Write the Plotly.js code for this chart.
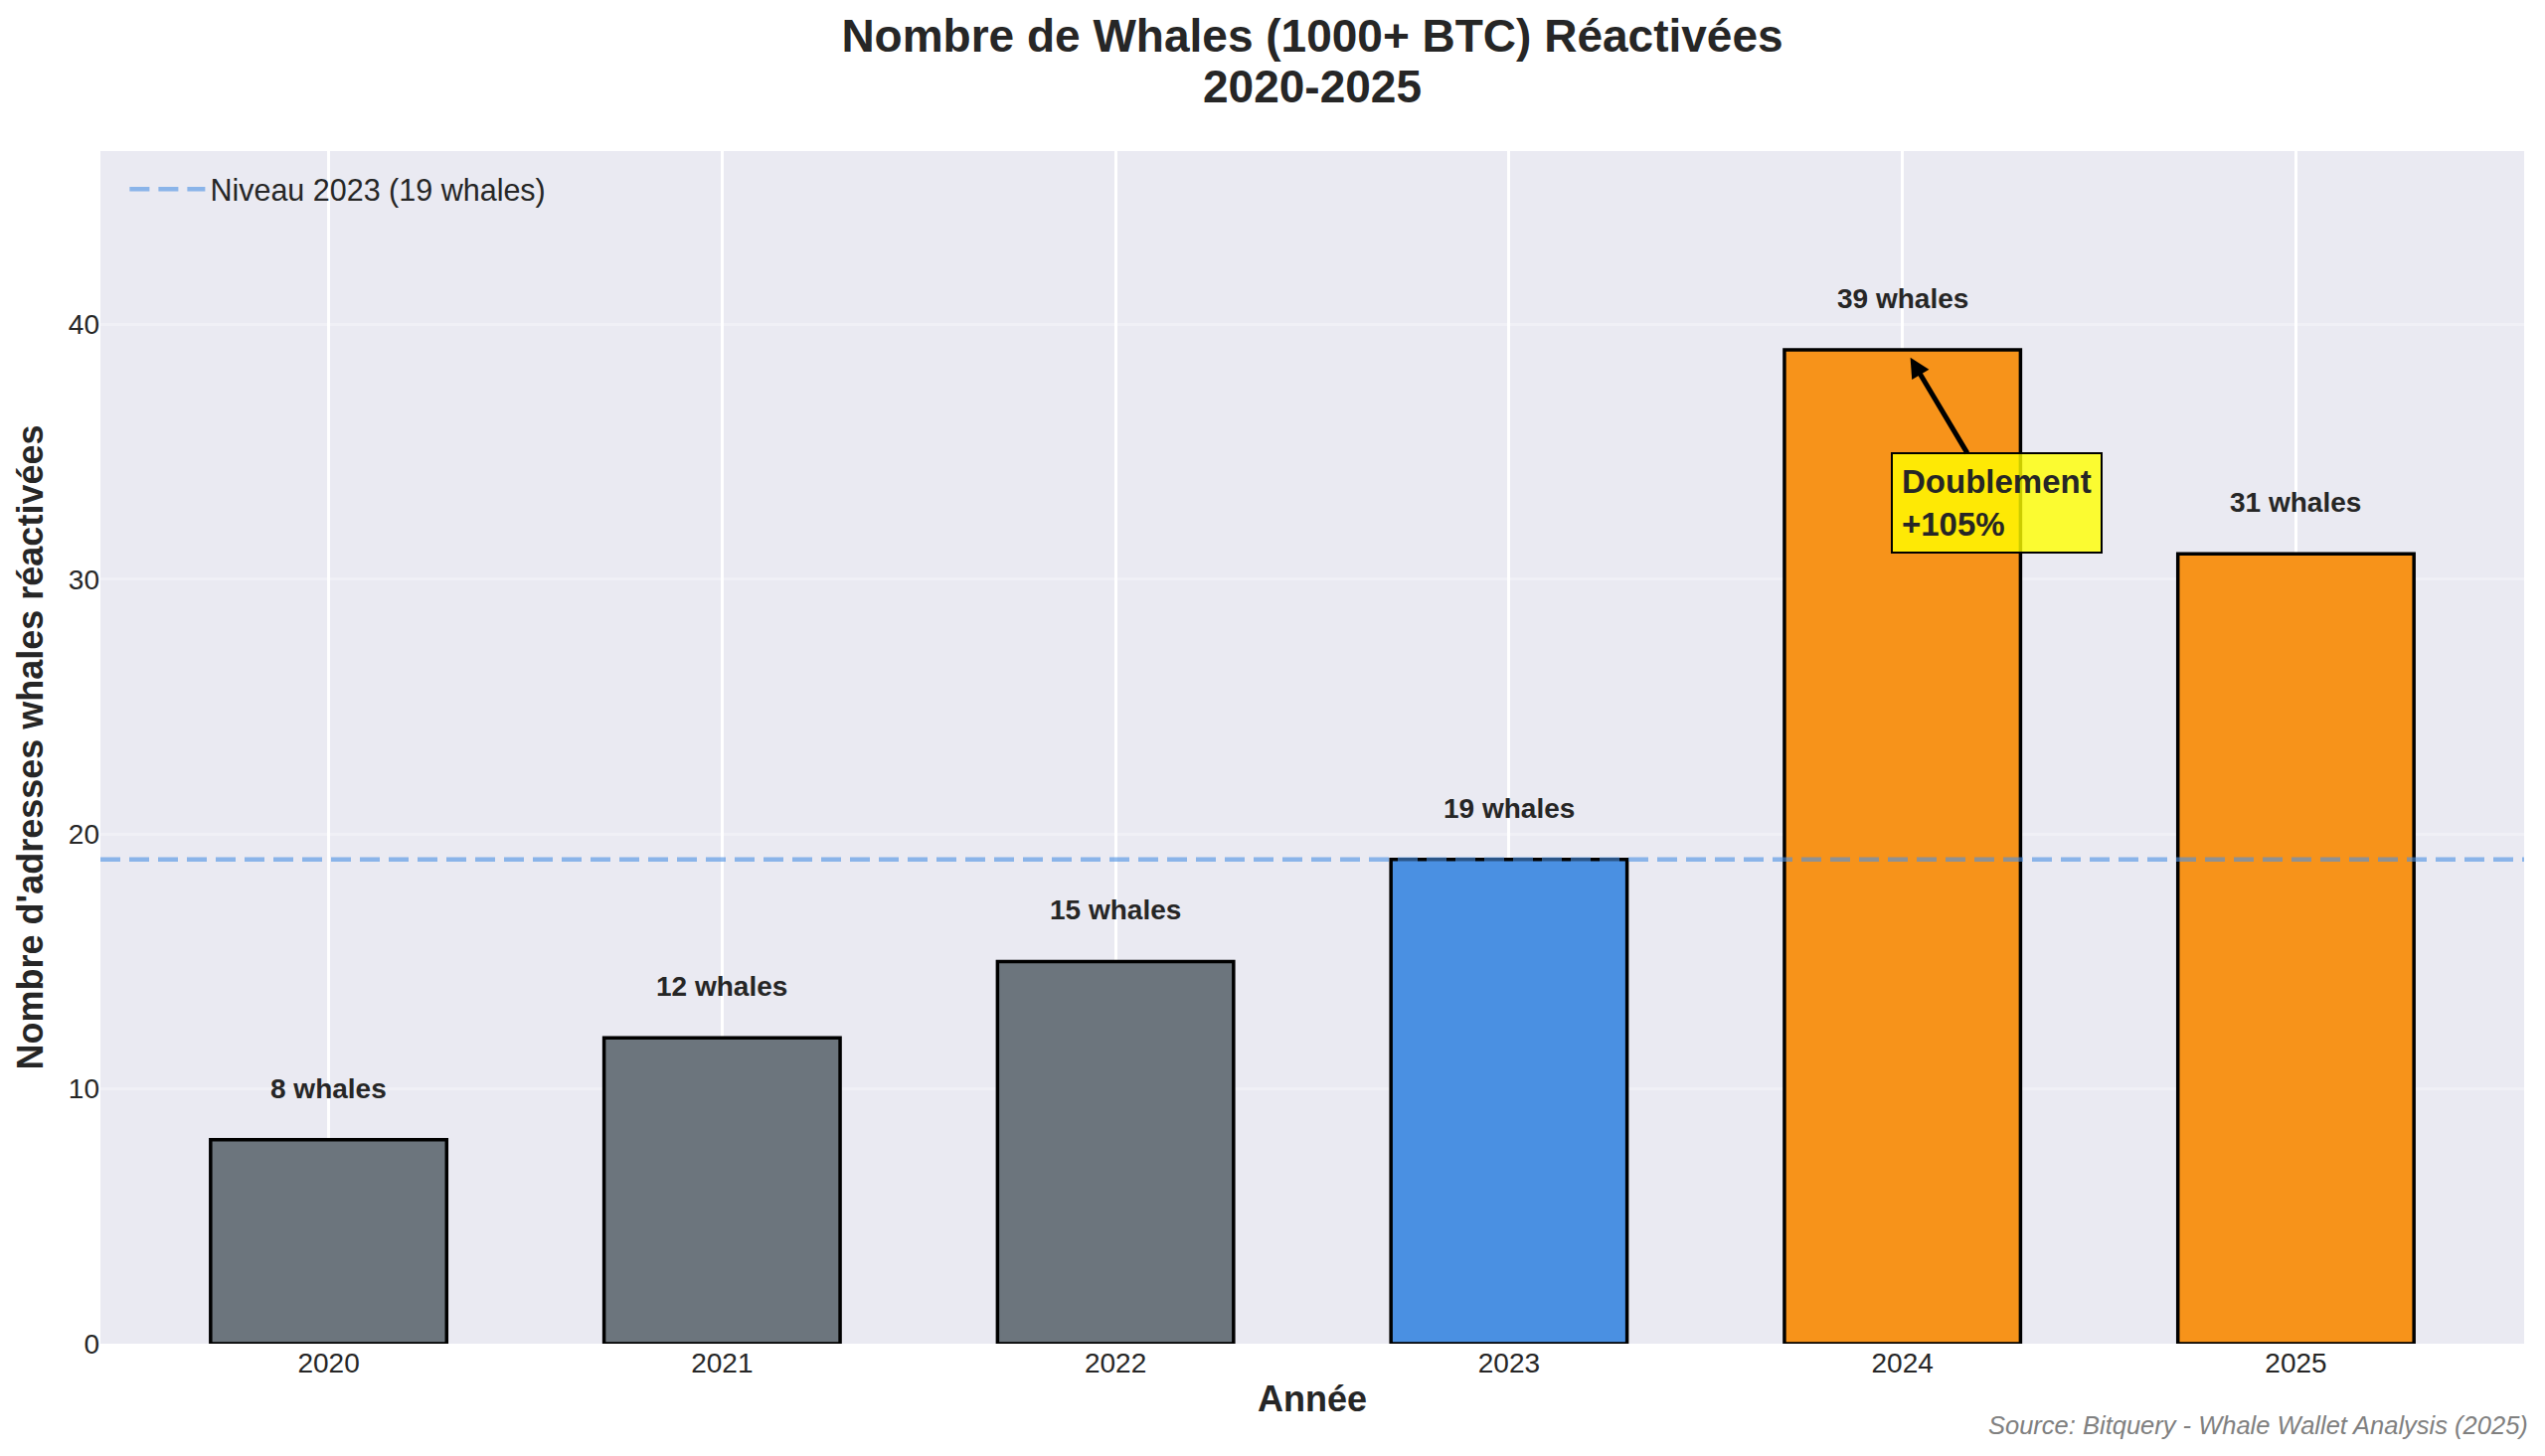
<!DOCTYPE html>
<html>
<head>
<meta charset="utf-8">
<script src="https://cdn.plot.ly/plotly-3.0.1.min.js"></script>
<style>
  html, body { margin: 0; padding: 0; background: #fff; }
  #chart { width: 2560px; height: 1465px; }
</style>
</head>
<body>
<div id="chart"></div>
<script>
var years = ["2020", "2021", "2022", "2023", "2024", "2025"]
var whales = [8, 12, 15, 19, 39, 31]
var yTicks = [0, 10, 20, 30, 40]

var barColors = ["#6c757d", "#6c757d", "#6c757d", "#4a90e2", "#f7931a", "#f7931a"]
var level = whales[years.indexOf("2023")] // reference line

var FONT = "Liberation Sans, Arial, Helvetica, sans-serif"
var INK = "#262626"

var data = [
  {
    type: "bar",
    x: years,
    y: whales,
    width: 0.6,
    marker: { color: barColors, line: { color: "#000", width: 3.5 } },
    showlegend: false,
    hoverinfo: "x+y",
  },
]

// value labels above each bar (category index as x)
var annotations = years.map(function (yr, i) {
  return {
    x: i,
    y: whales[i],
    xref: "x",
    yref: "y",
    text: "<b>" + whales[i] + " whales</b>",
    showarrow: false,
    yanchor: "bottom",
    yshift: 34,
    font: { family: FONT, size: 28, color: INK },
  }
})

// arrow + yellow box on 2024
annotations.push({
  x: 4.02,
  y: whales[4] - 0.3,
  xref: "x",
  yref: "y",
  ax: 4.24,
  ay: 33.0,
  axref: "x",
  ayref: "y",
  text: "<b>Doublement<br>+105%</b>",
  align: "left",
  showarrow: true,
  arrowhead: 2,
  arrowsize: 0.8,
  arrowwidth: 5,
  arrowcolor: "#000",
  bgcolor: "rgba(255,255,0,0.8)",
  bordercolor: "#000",
  borderwidth: 2,
  borderpad: 9,
  font: { family: FONT, size: 33, color: INK },
})

// second title line (plot area: top 152px, height 1200px)
annotations.push({
  x: 0.5,
  y: 1 + (152 - 87) / 1200,
  xref: "paper",
  yref: "paper",
  xanchor: "center",
  yanchor: "middle",
  text: "<b>2020-2025</b>",
  showarrow: false,
  font: { family: FONT, size: 46, color: INK },
})

// source note
annotations.push({
  x: 1,
  y: 0,
  xref: "paper",
  yref: "paper",
  xanchor: "right",
  yanchor: "middle",
  xshift: 6,
  yshift: -82,
  text: "<i>Source: Bitquery - Whale Wallet Analysis (2025)</i>",
  showarrow: false,
  font: { family: FONT, size: 25.5, color: "#808080" },
})

var layout = {
  width: 2560,
  height: 1465,
  margin: { t: 152, r: 21, l: 101, b: 113 },
  paper_bgcolor: "#ffffff",
  plot_bgcolor: "#eaeaf2",
  font: { family: FONT, color: INK },
  title: {
    text: "<b>Nombre de Whales (1000+ BTC) Réactivées</b>",
    x: 0.5,
    xref: "paper",
    xanchor: "center",
    y: 1 - 36 / 1465,
    yref: "container",
    yanchor: "middle",
    font: { family: FONT, size: 46, color: INK },
  },
  xaxis: {
    type: "category",
    range: [-0.58, 5.58],
    showgrid: true,
    gridcolor: "#ffffff",
    gridwidth: 2.5,
    zeroline: false,
    showline: false,
    ticks: "",
    tickfont: { family: FONT, size: 28, color: INK },
    title: {
      text: "<b>Année</b>",
      font: { family: FONT, size: 36, color: INK },
      standoff: 8,
    },
  },
  yaxis: {
    range: [0, 46.8],
    tickvals: yTicks,
    showgrid: true,
    gridcolor: "rgba(255,255,255,0.3)",
    gridwidth: 2.5,
    zeroline: false,
    showline: false,
    ticks: "",
    tickfont: { family: FONT, size: 28, color: INK },
    title: {
      text: "<b>Nombre d'adresses whales réactivées</b>",
      font: { family: FONT, size: 36, color: INK },
      standoff: 14,
    },
  },
  shapes: [
    {
      type: "line",
      xref: "paper",
      x0: 0,
      x1: 1,
      yref: "y",
      y0: level,
      y1: level,
      layer: "above",
      line: { color: "rgba(74,144,226,0.6)", width: 4.5, dash: "20px,9px" },
      showlegend: true,
      name: "Niveau 2023 (" + level + " whales)",
    },
  ],
  showlegend: true,
  legend: {
    x: 0.01,
    y: 0.99,
    xanchor: "left",
    yanchor: "top",
    itemwidth: 76,
    bgcolor: "rgba(234,234,242,0)",
    font: { family: FONT, size: 30.5, color: INK },
  },
  annotations: annotations,
  bargap: 0.4,
}

Plotly.newPlot("chart", data, layout, { displayModeBar: false })
</script>
</body>
</html>
